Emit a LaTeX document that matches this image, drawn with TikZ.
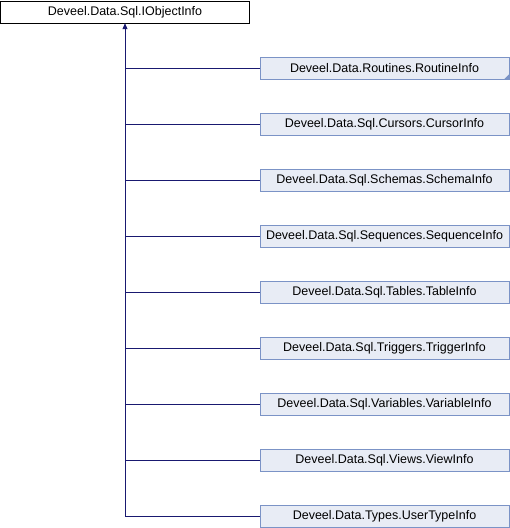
\documentclass[tikz,border=0pt]{standalone}
\usepackage{fontspec}
\setmainfont{Liberation Sans}
\usetikzlibrary{arrows.meta}
\definecolor{edgeblue}{HTML}{191970}
\definecolor{boxfill}{HTML}{E8ECF5}
\definecolor{boxline}{HTML}{7B93C6}
\begin{document}
\begin{tikzpicture}[x=1pt,y=-1pt,
  base/.style={draw, minimum width=249pt, minimum height=22pt, inner sep=0pt,
    font=\fontsize{12.5}{14}\selectfont},
  rootbox/.style={base, fill=white, draw=black},
  childbox/.style={base, fill=boxfill, draw=boxline},
  edge/.style={draw=edgeblue, line width=0.9pt}]
\useasboundingbox (0,0) rectangle (510,528);
\node[rootbox] (root) at (125,12) {Deveel.Data.Sql.IObjectInfo};
\foreach \i/\name in {1/Deveel.Data.Routines.RoutineInfo,
                      2/Deveel.Data.Sql.Cursors.CursorInfo,
                      3/Deveel.Data.Sql.Schemas.SchemaInfo,
                      4/Deveel.Data.Sql.Sequences.SequenceInfo,
                      5/Deveel.Data.Sql.Tables.TableInfo,
                      6/Deveel.Data.Sql.Triggers.TriggerInfo,
                      7/Deveel.Data.Sql.Variables.VariableInfo,
                      8/Deveel.Data.Sql.Views.ViewInfo,
                      9/Deveel.Data.Types.UserTypeInfo}
  \node[childbox] (c\i) at (384.5,{12+56*\i}) {\name};
% marker for a class with further derived classes
\fill[boxline] (c1.south east) -- ++(-5,0) -- ++(5,-5) -- cycle;
% inheritance edges
\draw[edge, -{Triangle[length=6pt,width=5pt]}] (c9.west) -| (root.south);
\foreach \i in {1,...,8}
  \draw[edge] (c\i.west) -- (root.south |- c\i.west);
\end{tikzpicture}
\end{document}
